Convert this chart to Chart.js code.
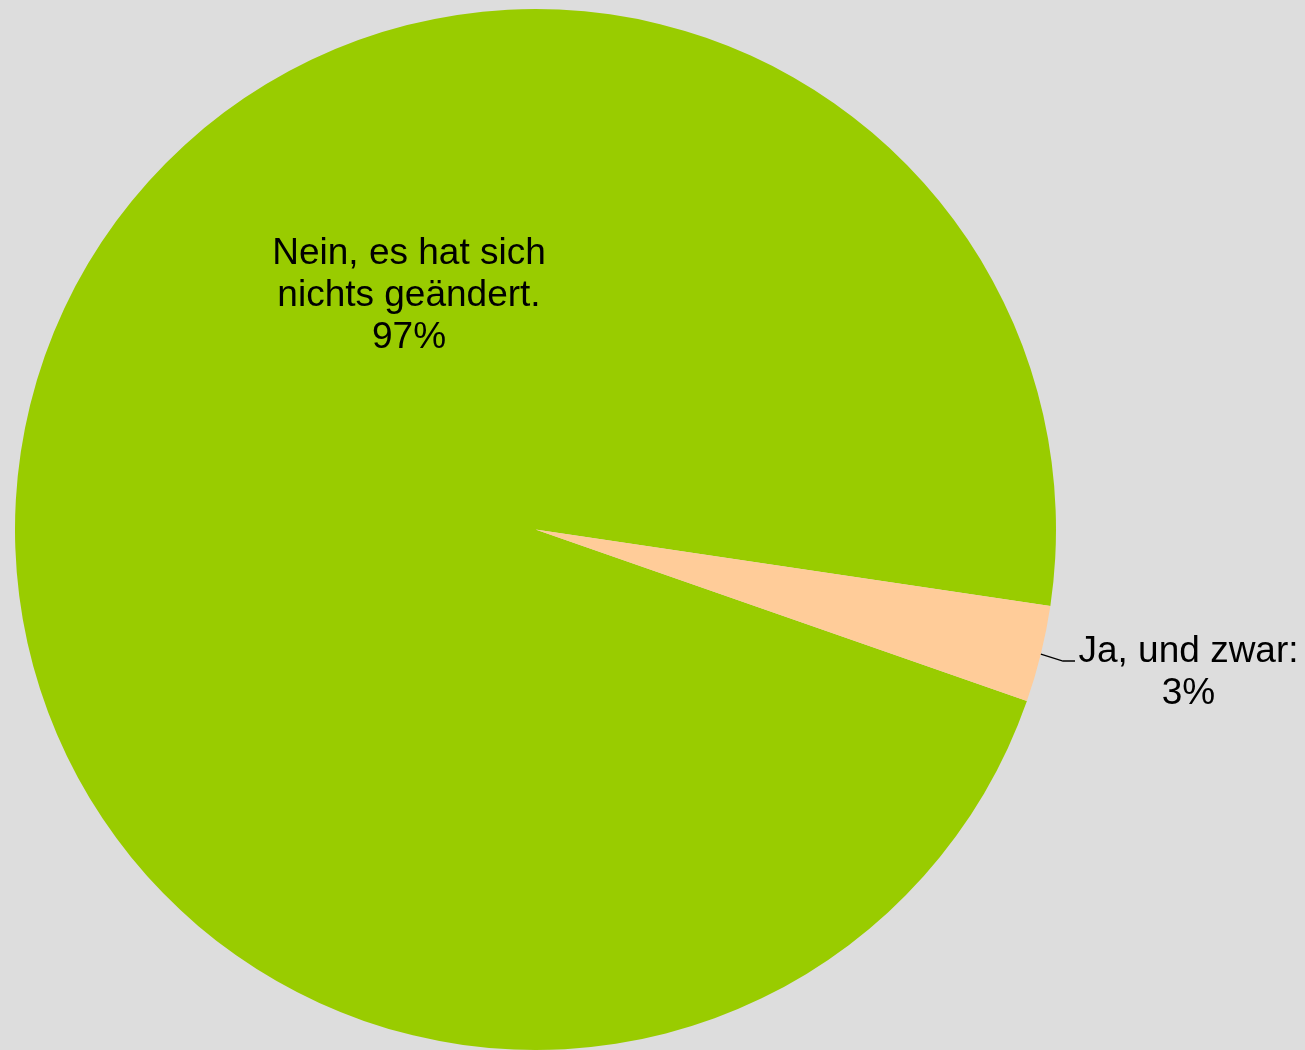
<!DOCTYPE html>
<html lang="de">
<head>
<meta charset="utf-8">
<title>Hat sich etwas geändert?</title>
<script src="https://cdn.jsdelivr.net/npm/chart.js@4/dist/chart.umd.min.js"></script>
<style>
  html, body { margin: 0; padding: 0; background: #dddddd; }
  #wrap { position: relative; width: 1305px; height: 1050px; }
</style>
</head>
<body>
<div id="wrap"><canvas id="pie"></canvas></div>
<script>
// Answers and their shares in percent
const categories = ['Nein, es hat sich nichts geändert.', 'Ja, und zwar:'];
const categoryLines = [['Nein, es hat sich', 'nichts geändert.'], ['Ja, und zwar:']];
const shares = [97, 3];
const sliceColors = ['#99cc00', '#ffcc99'];

// Paints the canvas background grey
const backdrop = {
  id: 'backdrop',
  beforeDraw(chart) {
    const { ctx, width, height } = chart;
    ctx.save();
    ctx.fillStyle = '#dddddd';
    ctx.fillRect(0, 0, width, height);
    ctx.restore();
  }
};

// Writes the category name and percentage for every slice; the small slice
// gets a leader line from its rim
const sliceLabels = {
  id: 'sliceLabels',
  afterDatasetsDraw(chart, args, opts) {
    const { ctx } = chart;
    const meta = chart.getDatasetMeta(0);
    ctx.save();
    ctx.font = opts.font;
    ctx.fillStyle = '#000000';
    ctx.textAlign = 'center';
    ctx.textBaseline = 'alphabetic';
    meta.data.forEach((arc, i) => {
      const p = arc.getProps(['x', 'y', 'startAngle', 'endAngle', 'outerRadius'], true);
      const place = opts.places[i];
      const lines = categoryLines[i].concat([shares[i] + '%']);
      const tx = p.x + place.dx;
      const ty = p.y + place.dy;
      lines.forEach((t, k) => ctx.fillText(t, tx, ty + k * opts.lineHeight));
      if (place.leader) {
        const mid = (p.startAngle + p.endAngle) / 2;
        const rx = p.x + Math.cos(mid) * p.outerRadius;
        const ry = p.y + Math.sin(mid) * p.outerRadius;
        ctx.beginPath();
        ctx.strokeStyle = '#000000';
        ctx.lineWidth = 1.3;
        ctx.moveTo(rx, ry);
        ctx.lineTo(p.x + place.leader[0], p.y + place.leader[2]);
        ctx.lineTo(p.x + place.leader[1], p.y + place.leader[2]);
        ctx.stroke();
      }
    });
    ctx.restore();
  }
};

new Chart(document.getElementById('pie'), {
  type: 'pie',
  data: {
    labels: categories,
    datasets: [{
      data: shares,
      backgroundColor: sliceColors,
      borderWidth: 0,
      hoverOffset: 0
    }]
  },
  options: {
    responsive: true,
    maintainAspectRatio: false,
    animation: false,
    rotation: 109.25,
    layout: { padding: { left: 15, top: 9, right: 249, bottom: 0 } },
    plugins: {
      legend: { display: false },
      tooltip: { enabled: false },
      sliceLabels: {
        font: '37px "Liberation Sans", Arial, sans-serif',
        lineHeight: 41.8,
        places: [
          { dx: -126.5, dy: -265.5 },
          { dx: 653, dy: 132.5, leader: [527.5, 539.5, 131.5] }
        ]
      }
    }
  },
  plugins: [backdrop, sliceLabels]
});
</script>
</body>
</html>
